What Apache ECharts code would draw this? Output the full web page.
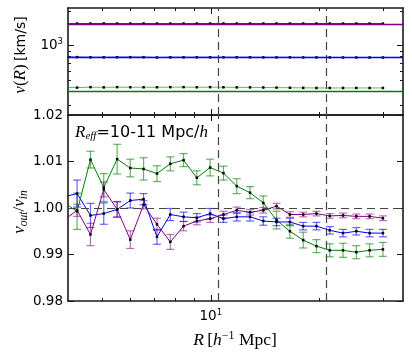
<!DOCTYPE html>
<html>
<head>
<meta charset="utf-8">
<script src="https://cdn.jsdelivr.net/npm/echarts@6/dist/echarts.min.js"></script>
<style>
html, body { margin: 0; padding: 0; background: #fff; }
#main { width: 412px; height: 358px; }
</style>
</head>
<body>
<div id="main"></div>
<script>
// R bins [h^-1 Mpc], first one falls just left of the axis
var R = [3.93, 4.27, 4.65, 5.06, 5.51, 5.99, 6.52, 7.10, 7.73, 8.41, 9.15, 9.96, 10.84,
  11.80, 12.84, 13.97, 15.20, 16.55, 18.01, 19.60, 21.33, 23.21, 25.26, 27.49, 29.92]

// top panel: v_out points and v_in levels [km/s]
var magTop = [1563, 1563, 1562, 1565, 1563, 1561, 1564, 1562, 1561, 1562, 1563, 1563, 1563,
  1563, 1563, 1563, 1564, 1563, 1563, 1563, 1563, 1563, 1563, 1563, 1562]
var blueTop = [792, 793, 790, 790, 791, 792, 792, 787, 790, 790, 790, 790, 790,
  790, 790, 789, 789, 789, 788, 788, 788, 787, 787, 787, 787]
var greenTop = [429, 428, 432, 430, 432, 431, 431, 431, 432, 432, 431, 432, 431,
  430, 430, 429, 428, 427, 426, 425, 425, 425, 425, 425, 425]
var magIn = 1563
var blueIn = 791
var greenIn = 401

// bottom panel: v_out / v_in with errors
var greenRatio = [1.0011, 0.9993, 1.0104, 1.0044, 1.0105, 1.0086, 1.0084, 1.0074, 1.0095, 1.0103,
  1.0065, 1.0087, 1.0075, 1.0047, 1.0033, 1.0011, 0.9974, 0.9950, 0.9931, 0.9918,
  0.9909, 0.9909, 0.9905, 0.9909, 0.9911]
var greenErr = [0.0040, 0.0039, 0.0018, 0.0030, 0.0032, 0.0019, 0.0024, 0.0017, 0.0015, 0.0014,
  0.0015, 0.0018, 0.0015, 0.0016, 0.0013, 0.0015, 0.0019, 0.0015, 0.0017, 0.0014,
  0.0014, 0.0015, 0.0014, 0.0014, 0.0015]
var blueRatio = [1.0024, 1.0031, 0.9984, 0.9988, 0.9997, 1.0016, 1.0019, 0.9938, 0.9986, 0.9981,
  0.9979, 0.9988, 0.9977, 0.9981, 0.9981, 0.9972, 0.9970, 0.9970, 0.9961, 0.9961,
  0.9952, 0.9946, 0.9950, 0.9946, 0.9946]
var blueErr = [0.0030, 0.0029, 0.0026, 0.0023, 0.0017, 0.0016, 0.0012, 0.0016, 0.0013, 0.0010,
  0.0009, 0.0011, 0.0008, 0.0009, 0.0009, 0.0009, 0.0008, 0.0008, 0.0008, 0.0008,
  0.0008, 0.0008, 0.0008, 0.0008, 0.0008]
var magRatio = [0.9974, 0.9995, 0.9943, 1.0040, 0.9997, 0.9932, 1.0007, 0.9965, 0.9927, 0.9961,
  0.9972, 0.9977, 0.9986, 0.9995, 0.9991, 0.9995, 1.0004, 0.9986, 0.9986, 0.9988,
  0.9983, 0.9984, 0.9982, 0.9982, 0.9978]
var magErr = [0.0020, 0.0013, 0.0024, 0.0016, 0.0016, 0.0019, 0.0009, 0.0013, 0.0016, 0.0010,
  0.0008, 0.0008, 0.0007, 0.0007, 0.0006, 0.0006, 0.0006, 0.0006, 0.0005, 0.0005,
  0.0005, 0.0005, 0.0005, 0.0005, 0.0005]

var dashR = [10.5, 21]
var xMin = 4.03, xMax = 34
var xMajor = [10], xMinor = [5, 6, 7, 8, 9, 20, 30]
var vMin = 246, vMax = 2140
var vMajor = [1000], vMinor = [300, 400, 500, 600, 700, 800, 900, 2000]
var ratioTicks = [0.98, 0.99, 1.00, 1.01, 1.02]

var GREEN = '#008000', BLUE = '#0000ff', MAG = '#800080'
var INK = '#1a1a1a'
var SANS = 'DejaVu Sans'
var SERIF = 'Liberation Serif'

function lg(a) { return a.map(function (v) { return Math.log10(v) }) }

function axis(grid, pos, min, max, ticks, len, line, label) {
  return {
    type: 'value', gridIndex: grid, position: pos, min: min, max: max,
    axisLine: { show: line, onZero: false, lineStyle: { color: INK, width: 1.6 } },
    axisTick: { show: true, inside: true, length: len, customValues: ticks,
      lineStyle: { color: INK, width: 1 } },
    axisLabel: label || { show: false },
    splitLine: { show: false }
  }
}

var supRich = {
  b: { fontFamily: SANS, fontSize: 13.5, color: '#000' },
  s: { fontFamily: SANS, fontSize: 8.5, color: '#000', padding: [0, 0, 8, 0] }
}

var lx0 = Math.log10(xMin), lx1 = Math.log10(xMax)
var ly0 = Math.log10(vMin), ly1 = Math.log10(vMax)

var xAxes = [
  axis(0, 'bottom', lx0, lx1, lg(xMajor), 6, true),
  axis(0, 'bottom', lx0, lx1, lg(xMinor), 3, false),
  axis(0, 'top', lx0, lx1, lg(xMajor), 6, true),
  axis(0, 'top', lx0, lx1, lg(xMinor), 3, false),
  axis(1, 'bottom', lx0, lx1, lg(xMajor), 6, true, {
    show: true, customValues: lg(xMajor), margin: 7,
    formatter: function () { return '{b|10}{s|1}' }, rich: supRich
  }),
  axis(1, 'bottom', lx0, lx1, lg(xMinor), 3, false),
  axis(1, 'top', lx0, lx1, lg(xMajor), 6, true),
  axis(1, 'top', lx0, lx1, lg(xMinor), 3, false)
]

var yAxes = [
  axis(0, 'left', ly0, ly1, lg(vMajor), 6, true, {
    show: true, customValues: lg(vMajor), margin: 5,
    formatter: function () { return '{b|10}{s|3}' }, rich: supRich
  }),
  axis(0, 'left', ly0, ly1, lg(vMinor), 3, false),
  axis(0, 'right', ly0, ly1, lg(vMajor), 6, true),
  axis(0, 'right', ly0, ly1, lg(vMinor), 3, false),
  axis(1, 'left', 0.98, 1.02, ratioTicks, 6, true, {
    show: true, customValues: ratioTicks, margin: 5,
    fontFamily: SANS, fontSize: 13.5, color: '#000',
    formatter: function (v) { return v.toFixed(2) }
  }),
  axis(1, 'right', 0.98, 1.02, ratioTicks, 6, true)
]

var dashStyle = { color: '#444', width: 1.2, type: [8, 5] }

function dashLines(extra) {
  var d = dashR.map(function (r) { return { xAxis: Math.log10(r) } })
  return {
    silent: true, symbol: 'none', label: { show: false },
    lineStyle: dashStyle, data: d.concat(extra || [])
  }
}

function pts(vals, logY) {
  return R.map(function (r, i) { return [Math.log10(r), logY ? Math.log10(vals[i]) : vals[i]] })
}

function topSeries(vals, vin, color, lineOp) {
  return {
    type: 'line', xAxisIndex: 0, yAxisIndex: 0, data: pts(vals, true),
    symbol: 'rect', symbolSize: 2.5, itemStyle: { color: '#000' },
    lineStyle: { color: color, width: 1, opacity: lineOp }, z: 3,
    markLine: {
      silent: true, symbol: 'none', label: { show: false },
      lineStyle: { color: color, width: 1.4, type: 'solid' },
      data: [{ yAxis: Math.log10(vin) }]
    }
  }
}

function errSeries(ratio, err, color, op) {
  var d = []
  R.forEach(function (r, i) {
    if (r >= xMin) d.push([Math.log10(r), ratio[i] - err[i], ratio[i] + err[i]])
  })
  return {
    type: 'custom', xAxisIndex: 4, yAxisIndex: 4, data: d, silent: true, z: 2,
    encode: { x: 0, y: [1, 2] },
    renderItem: function (params, api) {
      var x = api.value(0)
      var a = api.coord([x, api.value(1)])
      var b = api.coord([x, api.value(2)])
      var w = 4
      var st = { stroke: color, lineWidth: 1.2, opacity: op }
      return {
        type: 'group', children: [
          { type: 'line', shape: { x1: a[0], y1: a[1], x2: b[0], y2: b[1] }, style: st },
          { type: 'line', shape: { x1: a[0] - w, y1: a[1], x2: a[0] + w, y2: a[1] }, style: st },
          { type: 'line', shape: { x1: b[0] - w, y1: b[1], x2: b[0] + w, y2: b[1] }, style: st }
        ]
      }
    }
  }
}

function ratioSeries(ratio, color) {
  return {
    type: 'line', xAxisIndex: 4, yAxisIndex: 4, data: pts(ratio, false),
    symbol: 'rect', symbolSize: 2.5, itemStyle: { color: '#000' },
    lineStyle: { color: color, width: 1 }, z: 3
  }
}

var topDash = {
  type: 'line', xAxisIndex: 0, yAxisIndex: 0, data: [], markLine: dashLines()
}
var botDash = {
  type: 'line', xAxisIndex: 4, yAxisIndex: 4, data: [],
  markLine: dashLines([{ yAxis: 1.0 }])
}

var option = {
  animation: false,
  backgroundColor: '#fff',
  grid: [
    { left: 68, width: 335, top: 8, height: 107 },
    { left: 68, width: 335, top: 115, height: 186 }
  ],
  xAxis: xAxes,
  yAxis: yAxes,
  graphic: [
    {
      type: 'text', x: 21, y: 55, rotation: Math.PI / 2,
      style: {
        text: '{i|v}{r|(}{i|R}{r|)} {s|[km/s]}', align: 'center', verticalAlign: 'middle',
        rich: {
          i: { fontFamily: SERIF, fontStyle: 'italic', fontSize: 17, fill: '#000' },
          r: { fontFamily: SERIF, fontSize: 17, fill: '#000' },
          s: { fontFamily: SANS, fontSize: 14, fill: '#000' }
        }
      }
    },
    {
      type: 'text', x: 20, y: 212, rotation: Math.PI / 2,
      style: {
        text: '{i|v}{u|out}{r|/}{i|v}{u|in}', align: 'center', verticalAlign: 'middle',
        rich: {
          i: { fontFamily: SERIF, fontStyle: 'italic', fontSize: 17, fill: '#000' },
          r: { fontFamily: SERIF, fontSize: 17, fill: '#000' },
          u: { fontFamily: SERIF, fontStyle: 'italic', fontSize: 11.5, fill: '#000', padding: [7, 0, 0, 0] }
        }
      }
    },
    {
      type: 'text', x: 235, y: 340,
      style: {
        text: '{i|R} {r|[}{i|h}{p|\u22121}{r| Mpc]}', align: 'center', verticalAlign: 'middle',
        rich: {
          i: { fontFamily: SERIF, fontStyle: 'italic', fontSize: 17.5, fill: '#000' },
          r: { fontFamily: SERIF, fontSize: 17.5, fill: '#000' },
          p: { fontFamily: SERIF, fontSize: 12, fill: '#000', padding: [0, 0, 8, 0] }
        }
      }
    },
    {
      type: 'text', x: 75, y: 133,
      style: {
        text: '{i|R}{u|eff}{s|=10-11 Mpc/}{i|h}', align: 'left', verticalAlign: 'middle',
        rich: {
          i: { fontFamily: SERIF, fontStyle: 'italic', fontSize: 17, fill: '#000' },
          u: { fontFamily: SERIF, fontStyle: 'italic', fontSize: 11, fill: '#000', padding: [7, 0, 0, 0] },
          s: { fontFamily: SANS, fontSize: 16, fill: '#000' }
        }
      }
    }
  ],
  series: [
    topDash,
    topSeries(magTop, magIn, MAG, 1),
    topSeries(blueTop, blueIn, BLUE, 1),
    topSeries(greenTop, greenIn, GREEN, 0.6),
    botDash,
    errSeries(greenRatio, greenErr, GREEN, 0.6),
    errSeries(blueRatio, blueErr, BLUE, 0.6),
    errSeries(magRatio, magErr, MAG, 0.55),
    ratioSeries(greenRatio, GREEN),
    ratioSeries(blueRatio, BLUE),
    ratioSeries(magRatio, MAG)
  ]
}

var myChart = echarts.init(document.getElementById('main'))
myChart.setOption(option)
</script>
</body>
</html>
